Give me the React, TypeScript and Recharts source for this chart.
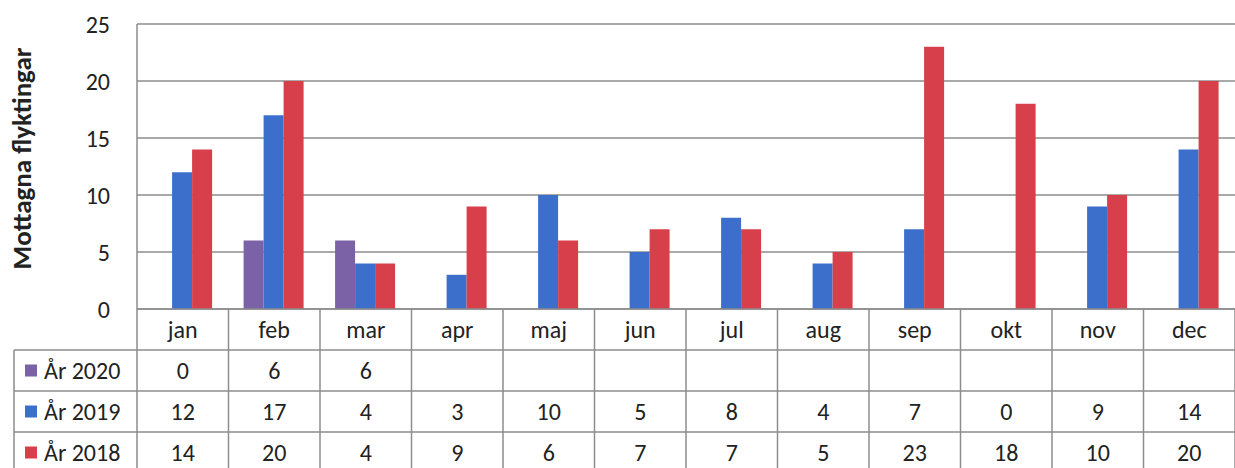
import React from 'react';
import { BarChart, Bar, XAxis, YAxis, CartesianGrid, Label } from 'recharts';

const months = ['jan', 'feb', 'mar', 'apr', 'maj', 'jun', 'jul', 'aug', 'sep', 'okt', 'nov', 'dec'];
const year2020: (number | null)[] = [0, 6, 6, null, null, null, null, null, null, null, null, null];
const year2019 = [12, 17, 4, 3, 10, 5, 8, 4, 7, 0, 9, 14];
const year2018 = [14, 20, 4, 9, 6, 7, 7, 5, 23, 18, 10, 20];
const yTicks = [0, 5, 10, 15, 20, 25];

const seriesList = [
  { key: 'y2020', name: 'År 2020', color: '#7b61a6', values: year2020 },
  { key: 'y2019', name: 'År 2019', color: '#3c6fcc', values: year2019 },
  { key: 'y2018', name: 'År 2018', color: '#d7404a', values: year2018 },
];

const data = months.map((m, i) => ({
  month: m,
  y2020: year2020[i],
  y2019: year2019[i],
  y2018: year2018[i],
}));

const W = 1235;
const H = 468;
const AXIS_W = 137;
const BAND = (W - AXIS_W) / months.length;
const ROW_H = 41;
const FONT = 'Carlito, Lato, sans-serif';
const FS = 24;
const TEXT = '#222';
const LINE = '#8c8c8c';

const TableTick = (props: any) => {
  const { x, y, index, payload } = props;
  const right = x + BAND / 2;
  const left = x - BAND / 2;
  return (
    <g>
      <text x={x} y={y + ROW_H / 2} textAnchor="middle" dominantBaseline="central" fontSize={FS} fill={TEXT} fontFamily={FONT}>
        {payload.value}
      </text>
      {seriesList.map((s, r) => {
        const v = s.values[index];
        if (v == null) return null;
        return (
          <text key={s.key} x={x} y={y + ROW_H * (r + 1) + ROW_H / 2} textAnchor="middle" dominantBaseline="central" fontSize={FS} fill={TEXT} fontFamily={FONT}>
            {v}
          </text>
        );
      })}
      <line x1={right} y1={y} x2={right} y2={y + ROW_H * 4} stroke={LINE} strokeWidth={1.5} />
      {index === 0 && (
        <g>
          <line x1={left} y1={y} x2={left} y2={y + ROW_H * 4} stroke={LINE} strokeWidth={1.5} />
          <line x1={14} y1={y + ROW_H} x2={14} y2={y + ROW_H * 4} stroke={LINE} strokeWidth={1.5} />
          {[1, 2, 3].map((r) => (
            <line key={r} x1={14} y1={y + ROW_H * r} x2={W} y2={y + ROW_H * r} stroke={LINE} strokeWidth={1.5} />
          ))}
          {seriesList.map((s, r) => (
            <g key={s.key}>
              <rect x={25} y={y + ROW_H * (r + 1) + ROW_H / 2 - 6} width={12} height={12} fill={s.color} />
              <text x={44} y={y + ROW_H * (r + 1) + ROW_H / 2} dominantBaseline="central" fontSize={FS} fill={TEXT} fontFamily={FONT}>
                {s.name}
              </text>
            </g>
          ))}
        </g>
      )}
    </g>
  );
};

const YTitle = (props: any) => {
  const { viewBox } = props;
  const cy = viewBox.y + viewBox.height / 2 - 8;
  return (
    <text x={21} y={cy} transform={`rotate(-90, 21, ${cy})`} textAnchor="middle" dominantBaseline="central" fontSize={27} fontWeight="bold" fill={TEXT} fontFamily={FONT}>
      Mottagna flyktingar
    </text>
  );
};

const App: React.FC = () => {
  return (
    <div style={{ position: 'absolute', left: 0, top: 0, width: W, height: H, overflow: 'hidden', background: '#fff' }}>
      <BarChart width={W} height={H} data={data} margin={{ top: 24, right: 0, bottom: 0, left: 0 }} barCategoryGap="16.5%" barGap={0}>
        <CartesianGrid vertical={false} stroke={LINE} strokeWidth={1.5} />
        <XAxis
          dataKey="month"
          height={H - 309}
          interval={0}
          tickSize={0}
          tickMargin={0}
          tick={<TableTick />}
          axisLine={{ stroke: LINE, strokeWidth: 1.5 }}
          tickLine={false}
        />
        <YAxis
          width={AXIS_W}
          domain={[0, 25]}
          ticks={yTicks}
          tickSize={0}
          tickMargin={27}
          tickLine={false}
          axisLine={{ stroke: LINE, strokeWidth: 1.5 }}
          tick={{ fontSize: FS, fill: TEXT, fontFamily: FONT }}
        >
          <Label content={<YTitle />} />
        </YAxis>
        {seriesList.map((s) => (
          <Bar key={s.key} dataKey={s.key} name={s.name} fill={s.color} isAnimationActive={false} />
        ))}
      </BarChart>
    </div>
  );
};

export default App;
